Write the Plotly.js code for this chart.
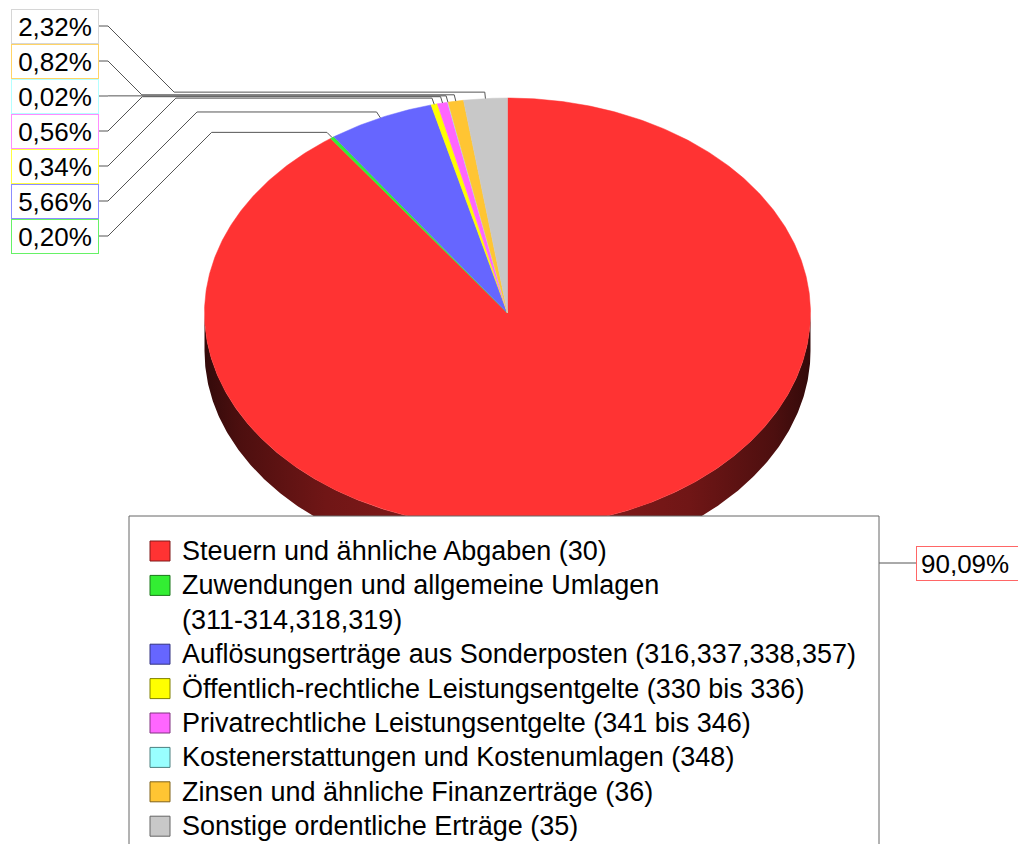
<!DOCTYPE html>
<html><head><meta charset="utf-8">
<script src="https://cdn.plot.ly/plotly-3.0.1.min.js"></script>
<style>html,body{margin:0;padding:0;background:#fff;overflow:hidden}</style>
</head><body><div id="chart" style="width:1018px;height:844px"></div>
<script>
// ---- data ----
const categories = [
  "Steuern und ähnliche Abgaben (30)",
  "Zuwendungen und allgemeine Umlagen<br>(311-314,318,319)",
  "Auflösungserträge aus Sonderposten (316,337,338,357)",
  "Öffentlich-rechtliche Leistungsentgelte (330 bis 336)",
  "Privatrechtliche Leistungsentgelte (341 bis 346)",
  "Kostenerstattungen und Kostenumlagen (348)",
  "Zinsen und ähnliche Finanzerträge (36)",
  "Sonstige ordentliche Erträge (35)"
];
const shares = [90.09, 0.20, 5.66, 0.34, 0.56, 0.02, 0.82, 2.32];
const sliceColors = ["#FF3333", "#33EE33", "#6666FF", "#FFFF00", "#FF66FF", "#99FFFF", "#FFC533", "#C8C8C8"];

// ---- layout constants ----
const W = 1018, H = 844;
const CX = 507.5, CY = 313, RX = 303, RY = 215, DEPTH = 38;
const FONT = "Liberation Sans, Arial, sans-serif";
const LABEL_X = 55, LABEL_TOP = 26, LABEL_STEP = 35;
const BIG_LABEL_X = 916, BIG_LABEL_Y = 563;
const LEG_BOX = {x0: 129, x1: 879, y0: 516};
const LEG_SYM_X = 160, LEG_SYM = 20, LEG_TEXT_X = 181, LEG_ROW0 = 551, LEG_LINE = 34.4, LEG_FONT = 27;

const total = shares.reduce((a, b) => a + b, 0);
function pt(deg, s, dy) {
  const r = deg * Math.PI / 180;
  return [CX + s * RX * Math.sin(r), CY - s * RY * Math.cos(r) + (dy || 0)];
}
function arc(a0, a1, dy) {
  const n = Math.max(2, Math.ceil(Math.abs(a1 - a0) / 0.5) + 1);
  const xs = [], ys = [];
  for (let i = 0; i < n; i++) {
    const p = pt(a0 + (a1 - a0) * i / (n - 1), 1, dy);
    xs.push(p[0]); ys.push(p[1]);
  }
  return [xs, ys];
}
function rgb(hex) { return [1, 3, 5].map(k => parseInt(hex.substr(k, 2), 16)); }
function shade(hex, f) { const c = rgb(hex); return "rgb(" + c.map(v => Math.round(v * f)).join(",") + ")"; }
function tint(hex, f) { const c = rgb(hex); return "rgb(" + c.map(v => Math.round(v + (255 - v) * f)).join(",") + ")"; }
function fmt(v) { return v.toFixed(2).replace(".", ",") + "%"; }

const starts = [], ends = [];
let cum = 0;
shares.forEach(v => { starts.push(cum / total * 360); cum += v; ends.push(cum / total * 360); });

const traces = [];
// side walls (front half only)
shares.forEach((v, i) => {
  const b0 = Math.max(starts[i], 90), b1 = Math.min(ends[i], 270);
  if (b1 <= b0) return;
  const top = arc(b0, b1, 0), bot = arc(b1, b0, DEPTH);
  const c = sliceColors[i];
  traces.push({
    type: "scatter", mode: "lines",
    x: top[0].concat(bot[0]), y: top[1].concat(bot[1]),
    fill: "toself", fillcolor: shade(c, 0.45),
    fillgradient: {
      type: "horizontal", start: CX - RX, stop: CX + RX,
      colorscale: [[0, shade(c, 0.2)], [0.06, shade(c, 0.3)], [0.2, shade(c, 0.44)], [0.5, shade(c, 0.57)],
                   [0.8, shade(c, 0.44)], [0.94, shade(c, 0.3)], [1, shade(c, 0.2)]]
    },
    line: {width: 0, color: shade(c, 0.4)},
    showlegend: false, hoverinfo: "skip"
  });
});
// top faces
shares.forEach((v, i) => {
  const a = arc(starts[i], ends[i], 0);
  traces.push({
    type: "scatter", mode: "lines",
    x: [CX].concat(a[0]).concat([CX]), y: [CY].concat(a[1]).concat([CY]),
    fill: "toself", fillcolor: sliceColors[i],
    line: {width: 0.5, color: sliceColors[i]},
    showlegend: false, hoverinfo: "skip"
  });
});

// labels and leader lines
const shapes = [], annotations = [];
const n = shares.length;
shares.forEach((v, i) => {
  const mid = (starts[i] + ends[i]) / 2;
  const p = pt(mid, 1.0), e = pt(mid, 1.03);
  let path, ann;
  if (i === 0) {
    const ky = BIG_LABEL_Y, kx = e[0] + (ky - e[1]);
    path = `M${p[0]},${p[1]} L${e[0]},${e[1]} L${kx},${ky} L${BIG_LABEL_X},${ky}`;
    ann = {x: BIG_LABEL_X, y: BIG_LABEL_Y, xanchor: "left", width: 112, height: 25, borderpad: 4, align: "left"};
  } else {
    const row = n - 1 - i;
    const ly = LABEL_TOP + row * LABEL_STEP;
    const bx = LABEL_X + 44;
    const sx = bx + 9, kx = sx + Math.abs(e[1] - ly);
    path = `M${bx},${ly} L${sx},${ly} L${kx},${e[1]} L${e[0]},${e[1]} L${p[0]},${p[1]}`;
    ann = {x: LABEL_X, y: ly, xanchor: "center", width: 84, height: 31, borderpad: 1, align: "center"};
  }
  shapes.push({type: "path", xref: "x", yref: "y", path: path, layer: "above", line: {color: "#555555", width: 1}});
  annotations.push(Object.assign({
    xref: "x", yref: "y", yanchor: "middle", text: fmt(v), showarrow: false,
    font: {family: FONT, size: 26, color: "#000"},
    bgcolor: "#ffffff", bordercolor: tint(sliceColors[i], 0.25), borderwidth: 1
  }, ann));
});
// legend box (covers lower part of pie)
shapes.push({type: "rect", xref: "x", yref: "y", x0: LEG_BOX.x0, x1: LEG_BOX.x1, y0: LEG_BOX.y0, y1: H + 60,
  layer: "above", fillcolor: "#ffffff", line: {color: "#666666", width: 1}});
// legend entries
let line = 0;
categories.forEach((name, i) => {
  const nl = name.split("<br>").length;
  const yc = LEG_ROW0 + line * LEG_LINE;
  shapes.push({type: "rect", xref: "x", yref: "y", layer: "above",
    x0: LEG_SYM_X - LEG_SYM / 2, x1: LEG_SYM_X + LEG_SYM / 2, y0: yc - LEG_SYM / 2, y1: yc + LEG_SYM / 2,
    fillcolor: sliceColors[i], line: {color: shade(sliceColors[i], 0.5), width: 1}});
  annotations.push({xref: "x", yref: "y", x: LEG_TEXT_X, y: yc + (nl - 1) * LEG_LINE / 2, xanchor: "left", yanchor: "middle",
    align: "left", text: name, showarrow: false, borderpad: 0,
    font: {family: FONT, size: LEG_FONT, color: "#000"}});
  line += nl;
});

const layout = {
  width: W, height: H, margin: {l: 0, r: 0, t: 0, b: 0},
  paper_bgcolor: "#ffffff", plot_bgcolor: "#ffffff",
  xaxis: {range: [0, W], visible: false, fixedrange: true},
  yaxis: {range: [H, 0], visible: false, fixedrange: true},
  showlegend: false,
  shapes: shapes, annotations: annotations, hovermode: false
};
Plotly.newPlot("chart", traces, layout, {displayModeBar: false, staticPlot: true});
</script></body></html>
